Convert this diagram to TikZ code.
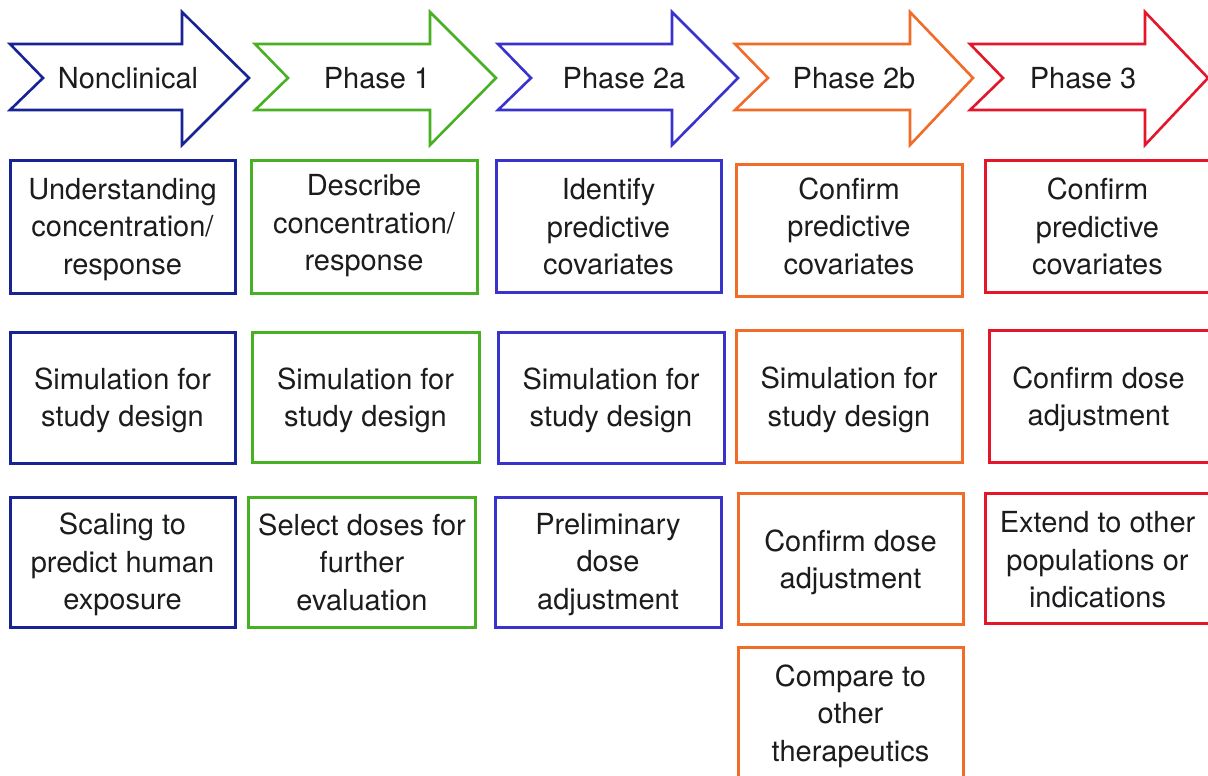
\documentclass[tikz,border=0pt]{standalone}
\usepackage{fontspec}
\setmainfont{TeX Gyre Heros}
\definecolor{cnavy}{RGB}{24,36,148}
\definecolor{cgreen}{RGB}{72,176,36}
\definecolor{cviolet}{RGB}{58,50,205}
\definecolor{corange}{RGB}{240,108,40}
\definecolor{cred}{RGB}{228,22,42}
\definecolor{ctext}{RGB}{28,28,28}
\newcommand\phasearrow[7]{%
  \draw[arrowline=#2] (#3,44) -- (#4,44) -- (#4,12) -- (#5,78) -- (#4,145) -- (#4,110) -- (#3,110) -- ({#3+33},78) -- cycle;
  \node[phaselabel] (#1) at (#7,78) {#6};
}
\tikzset{
  arrowline/.style={draw=#1, line width=2.6pt, line join=miter, fill=white},
  phaselabel/.style={text=ctext, font=\fontsize{29}{37}\selectfont, inner sep=0pt},
  pbox/.style={draw=#1, line width=3pt, inner sep=0pt},
  ptext/.style={text=ctext, align=center, inner sep=0pt, font=\fontsize{29}{37.5}\selectfont},
}
\begin{document}
\begin{tikzpicture}[x=1pt,y=-1pt]
\fill[white] (0,0) rectangle (1208,776);
\useasboundingbox (0,0) rectangle (1208,776);
% arrows
\phasearrow{a0}{cnavy}{10}{182}{249}{Nonclinical}{128}
\phasearrow{a1}{cgreen}{255}{430}{496}{Phase 1}{377}
\phasearrow{a2}{cviolet}{498}{672}{738}{Phase 2a}{624}
\phasearrow{a3}{corange}{735}{910}{973}{Phase 2b}{854}
\phasearrow{a4}{cred}{970}{1145}{1208}{Phase 3}{1083}
% column 1
\node[pbox=cnavy, minimum width=225pt, minimum height=133pt] (n1) at (122.5,226.5) {};
\node[ptext] (n1t) at (122.5,229.5) {Understanding\\concentration/\\response};
\node[pbox=cnavy, minimum width=225pt, minimum height=131pt] (n2) at (122.5,397.5) {};
\node[ptext] (n2t) at (122.5,400.5) {Simulation for\\study design};
\node[pbox=cnavy, minimum width=225pt, minimum height=130pt] (n3) at (122.5,562) {};
\node[ptext] (n3t) at (122.5,564.5) {Scaling to\\predict human\\exposure};
% column 2
\node[pbox=cgreen, minimum width=226pt, minimum height=133pt] (p1) at (364,226.5) {};
\node[ptext] (p1t) at (364,226) {Describe\\concentration/\\response};
\node[pbox=cgreen, minimum width=227pt, minimum height=130pt] (p2) at (365.5,397) {};
\node[ptext] (p2t) at (365.5,400.5) {Simulation for\\study design};
\node[pbox=cgreen, minimum width=227pt, minimum height=130pt] (p3) at (361.5,562) {};
\node[ptext] (p3t) at (362,562) {Select doses for\\further\\evaluation};
% column 3
\node[pbox=cviolet, minimum width=225pt, minimum height=132pt] (q1) at (608.5,226) {};
\node[ptext] (q1t) at (608.5,227) {Identify\\predictive\\covariates};
\node[pbox=cviolet, minimum width=226pt, minimum height=131pt] (q2) at (611,397.5) {};
\node[ptext] (q2t) at (611,400.5) {Simulation for\\study design};
\node[pbox=cviolet, minimum width=226pt, minimum height=130pt] (q3) at (608,562) {};
\node[ptext] (q3t) at (608,564.5) {Preliminary\\dose\\adjustment};
% column 4
\node[pbox=corange, minimum width=226pt, minimum height=132pt] (r1) at (849,230) {};
\node[ptext] (r1t) at (849,226) {Confirm\\predictive\\covariates};
\node[pbox=corange, minimum width=226pt, minimum height=132pt] (r2) at (849,396) {};
\node[ptext] (r2t) at (849,400) {Simulation for\\study design};
\node[pbox=corange, minimum width=225pt, minimum height=131pt] (r3) at (850.5,558.5) {};
\node[ptext] (r3t) at (850.5,562.5) {Confirm dose\\adjustment};
\node[pbox=corange, minimum width=225pt, minimum height=132pt] (r4) at (850.5,713) {};
\node[ptext] (r4t) at (850.5,716) {Compare to\\other\\therapeutics};
% column 5 (right edges run past the picture's edge)
\node[pbox=cred, minimum width=240pt, minimum height=132pt] (s1) at (1105,226) {};
\node[ptext] (s1t) at (1097.5,226.5) {Confirm\\predictive\\covariates};
\node[pbox=cred, minimum width=236pt, minimum height=132pt] (s2) at (1107,396) {};
\node[ptext] (s2t) at (1098.5,399.5) {Confirm dose\\adjustment};
\node[pbox=cred, minimum width=240pt, minimum height=130pt] (s3) at (1105,558) {};
\node[ptext] (s3t) at (1097.5,560) {Extend to other\\populations or\\indications};
\end{tikzpicture}
\end{document}
